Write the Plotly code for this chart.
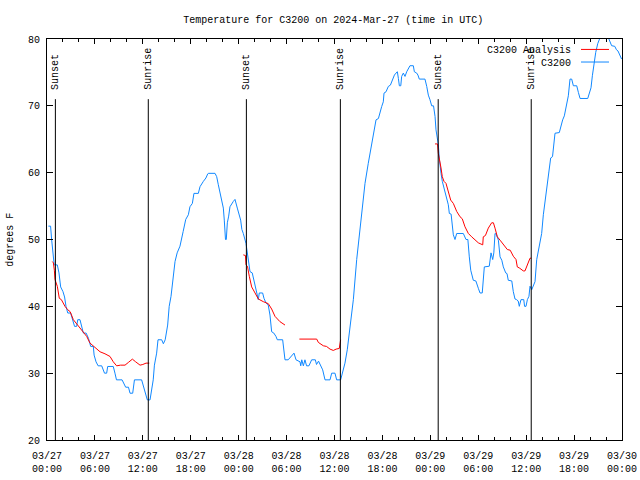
import pandas as pd
import plotly.graph_objects as go

BASE = pd.Timestamp("2024-03-27 00:00")

# Observed C3200 temperature: hours since 2024-03-27 00:00 UTC, degrees F
obs_hours = [0.17, 0.45, 0.58, 0.7, 0.79, 0.9, 1.29, 1.5, 1.65, 1.71, 2.0, 2.2, 2.38, 2.6, 2.96,
             3.3, 3.45, 3.71, 3.85, 4.13, 4.35, 4.55, 4.9, 5.2, 5.47, 5.8, 5.9, 6.14, 6.4, 6.85,
             7.2, 7.47, 7.6, 8.3, 8.51, 8.7, 9.4, 9.85, 10.2, 10.4, 10.73, 10.95, 11.85, 12.1,
             12.4, 12.56, 12.9, 13.05, 13.3, 13.45, 13.73, 13.9, 14.36, 14.57, 14.8, 15.11,
             15.3, 15.53, 15.8, 16.03, 16.3, 16.65, 17.05, 17.37, 17.7, 17.9, 18.2, 18.4, 18.95,
             19.16, 19.58, 19.9, 20.12, 20.2, 21.04, 21.25, 21.45, 21.66, 21.87, 22.08, 22.2,
             22.35, 22.45, 22.58, 22.75, 22.91, 23.33, 23.54, 23.83, 24.08, 24.25, 24.4, 24.58,
             24.92, 25.2, 25.42, 25.7, 25.92, 26.17, 26.46, 26.58, 27.0, 27.17, 27.42, 27.7,
             27.92, 28.13, 28.4, 28.67, 28.84, 29.51, 29.8, 30.2, 30.64, 30.93, 31.18, 31.68,
             31.77, 31.9, 32.1, 32.3, 32.5, 32.8, 33.14, 33.6, 33.75, 34.0, 34.52, 34.81, 35.44,
             35.65, 36.06, 36.27, 36.77, 37.02, 37.31, 37.6, 37.94, 38.36, 38.78, 39.11, 39.53,
             39.82, 40.23, 40.53, 40.78, 40.95, 41.07, 41.2, 41.5, 41.7, 41.91, 42.11, 42.2,
             42.45, 42.74, 43.0, 43.16, 43.29, 43.5, 43.7, 43.87, 44.0, 44.12, 44.3, 44.41,
             44.62, 44.83, 45.04, 45.25, 45.45, 45.87, 46.0, 46.29, 46.45, 46.62, 47.33, 47.55,
             47.75, 47.96, 48.17, 48.4, 48.59, 48.71, 48.88, 49.0, 49.13, 49.21, 49.34, 49.5,
             49.71, 49.96, 50.25, 50.38, 50.6, 50.88, 51.09, 51.3, 52.13, 52.47, 52.7, 52.88,
             53.06, 53.38, 53.7, 54.01, 54.22, 54.5, 54.63, 54.76, 55.38, 55.6, 55.81, 55.95,
             56.1, 56.25, 56.52, 56.73, 56.95, 57.14, 57.44, 57.6, 57.76, 58.2, 58.39, 58.6,
             58.8, 59.0, 59.14, 59.35, 59.7, 59.8, 59.98, 60.15, 60.35, 60.48, 60.7, 60.9,
             61.11, 61.32, 61.52, 61.73, 61.94, 62.15, 62.45, 62.65, 62.9, 63.07, 63.3, 63.52,
             63.61, 64.15, 64.32, 64.57, 64.78, 65.07, 65.28, 65.49, 65.7, 65.91, 66.33, 66.54,
             66.75, 67.71, 67.88, 68.12, 68.29, 68.5, 68.71, 68.96, 69.25, 70.29, 70.5, 70.7,
             71.1, 71.3, 71.5, 71.75, 71.95]
obs_temp = [52, 52, 50, 48.4, 46.7, 46.2, 46.2, 45, 43.5, 42.9, 42.2, 41.4, 40, 39, 39,
            37.7, 37, 37, 38, 38, 36.7, 36, 36, 35.2, 34, 34, 32.7, 31.7, 31.1, 31.1,
            30, 30, 31, 31, 30, 29, 29, 27.9, 27.9, 27, 27, 29, 29, 28,
            27, 26, 26, 27, 29, 31.2, 33, 35, 35, 34.4, 35, 37.2,
            40, 41.5, 44.2, 46.7, 48, 49, 51.2, 53, 53.7, 54.9, 55.4, 56.9, 56.9,
            57.9, 58.7, 59.2, 59.8, 59.9, 59.9, 59.4, 58.2, 56.9, 55.9, 54.7, 52.9,
            50, 50, 52.5, 53.5, 54.9, 55.7, 56, 54.7, 53.7, 52.9, 51.5, 50.9,
            49.4, 47, 45.2, 45, 43.7, 42.5, 41, 42, 42, 41.2, 40.5, 40.2,
            38.7, 36.2, 36, 35.5, 35, 35, 32, 32, 32.6, 33, 32, 31.7,
            31.1, 32, 31.1, 32, 31.1, 31.1, 32, 32, 31.3, 31.8, 30.5, 29, 29,
            30, 30, 29, 29, 30.2, 31.5, 33.5, 36.5, 41, 47, 50.4, 54.9,
            58.4, 61.4, 63.4, 64.9, 65.7, 66.4, 67.9, 68.1, 69.1, 69.9, 70.6, 71.9,
            72.1, 72.9, 73.1, 73.6, 74.1, 74.6, 74.9, 75.1, 74.1, 73, 73, 74.4,
            74.9, 74.4, 75.1, 75.7, 76, 76, 75.1, 74.9, 74.6, 74, 74, 72.9,
            71.6, 70.9, 70, 70, 68.4, 66.4, 64.9, 64.2, 62, 60.9, 59.9, 58.7,
            57.7, 56.4, 55.2, 53.9, 53.8, 50.7, 50, 50.9, 50.9, 50, 50, 47.4,
            45.4, 43.9, 43.8, 42.7, 42, 42, 43.9, 45.9, 46, 48, 47, 48,
            50.9, 50.8, 49.9, 47.4, 46.9, 45.9, 45, 44.9, 43.9, 43.8, 42.2, 41.1,
            41, 40.8, 40, 41, 41, 40, 40, 41, 41.5, 43, 42.5, 43.2,
            43.7, 47, 48.2, 49.2, 50.9, 53.7, 56.4, 58.9, 61.2, 62.2, 62.4, 65.4,
            65.9, 66, 66.9, 67.9, 68.5, 70, 71.5, 74, 74, 73, 73, 72,
            71.1, 71.1, 71.7, 72.7, 74.5, 76.5, 78, 79.3, 80.2, 80.2, 79.5, 79,
            78.9, 78.4, 78.2, 77.5, 77]

# Analysis series (None = gap between analysis runs)
ana_hours = [0.67, 0.8, 0.92, 1.0, 1.29, 1.54, 1.8, 2.25, 2.59, 2.9, 3.3, 3.71, 4.13, 4.55,
             4.97, 5.38, 5.8, 6.22, 6.64, 7.26, 7.89, 8.3, 8.72, 9.2, 9.77, 10.18, 10.69,
             11.1, 11.65, 12.0, 12.4, 12.81, 18.0,
             24.58, 24.85, 24.92, 25.1, 25.33, 25.63, 26.05, 26.46, 27.09, 27.71, 28.13,
             28.55, 29.18, 29.8, 30.5,
             31.6, 33.77, 33.98, 34.6, 35.0, 35.44, 35.85, 36.2, 36.6, 36.77, 42.0,
             48.59, 48.9, 49.0, 49.21, 49.34, 49.5, 49.71, 49.96, 50.25, 50.55, 50.88, 51.3,
             51.72, 52.0, 52.34, 52.76, 53.18, 53.59, 54.01, 54.56, 54.63, 54.9, 55.26,
             55.68, 55.9, 56.1, 56.39, 56.73, 57.0, 57.35, 57.64, 58.0, 58.39, 58.73, 58.89,
             59.2, 59.64, 59.85, 60.07, 60.28, 60.48, 60.63]
ana_temp = [46.7, 46.5, 45.4, 44, 43, 41.2, 41, 40, 39.5, 39.2, 38, 37.4, 36.7, 36,
            35.5, 34.5, 34.1, 33.7, 33.2, 32.9, 32.5, 31.7, 31.1, 31.2, 31.2, 31.6, 32.1,
            31.7, 31.2, 31.3, 31.5, 31.5, None,
            47.7, 47.6, 46.2, 46, 44.5, 42.9, 42, 41.1, 40.7, 40.4, 39.6,
            38.5, 37.7, 37.2, None,
            35.1, 35.1, 34.6, 34.1, 34, 33.6, 33.4, 33.6, 33.7, 35, None,
            64.3, 64.3, 62.9, 61.8, 60.7, 59.4, 58.7, 58.4, 57.2, 55.9, 55.4, 54.2,
            53.4, 53.1, 51.9, 50.9, 50.4, 49.9, 49.5, 49.2, 50.4, 50.6, 51.7,
            52.5, 52.5, 51.7, 50.4, 49.9, 49.5, 48.9, 48.5, 48.4, 47.5, 47, 45.9,
            45.7, 45.3, 45.3, 45.9, 46.7, 47.2, 47.2]

sun_labels = ["Sunset", "Sunrise", "Sunset", "Sunrise", "Sunset", "Sunrise"]
sun_times = ["2024-03-27 01:03", "2024-03-27 12:41", "2024-03-28 00:58",
             "2024-03-28 12:44", "2024-03-29 00:59", "2024-03-29 12:38"]

x_ticks_start = "2024-03-27 00:00"
x_ticks_end = "2024-03-30 00:00"
y_ticks = [20, 30, 40, 50, 60, 70, 80]

FONT = "Liberation Mono, DejaVu Sans Mono, monospace"
BLUE = "rgb(16,136,255)"
RED = "rgb(255,0,0)"

obs_x = BASE + pd.to_timedelta(obs_hours, unit="h")
ana_x = BASE + pd.to_timedelta(ana_hours, unit="h")

fig = go.Figure()
fig.add_trace(go.Scatter(x=obs_x, y=obs_temp, mode="lines", name="C3200",
                         line=dict(color=BLUE, width=1), showlegend=False))
fig.add_trace(go.Scatter(x=ana_x, y=ana_temp, mode="lines", name="C3200 Analysis",
                         line=dict(color=RED, width=1), connectgaps=False, showlegend=False))

# Sunrise / sunset markers
for lab, t in zip(sun_labels, sun_times):
    fig.add_shape(type="line", xref="x", yref="y", x0=t, x1=t, y0=20, y1=71,
                  line=dict(color="black", width=1))
    fig.add_annotation(x=t, xref="x", y=0.869, yref="paper", text=lab, textangle=-90,
                       showarrow=False, xanchor="center", yanchor="bottom",
                       font=dict(family=FONT, size=10, color="black"))

# Legend (gnuplot style: text right-aligned, sample on the right)
for name, col, yt, yl in [("C3200 Analysis", RED, 0.971, 0.974), ("C3200", BLUE, 0.940, 0.9426)]:
    fig.add_annotation(x=0.9153, y=yt, xref="paper", yref="paper", text=name, showarrow=False,
                       xanchor="right", yanchor="middle",
                       font=dict(family=FONT, size=10, color="black"))
    fig.add_shape(type="line", xref="paper", yref="paper", x0=0.9287, x1=0.9774, y0=yl, y1=yl,
                  line=dict(color=col, width=1))

# Y axis title
fig.add_annotation(x=-0.064, y=0.5, xref="paper", yref="paper", text="degrees F",
                   textangle=-90, showarrow=False, xanchor="center", yanchor="middle",
                   font=dict(family=FONT, size=10, color="black"))

fig.update_layout(
    width=640, height=480,
    margin=dict(l=47, r=18, t=39, b=40, pad=0, autoexpand=False),
    paper_bgcolor="white", plot_bgcolor="white",
    font=dict(family=FONT, size=10, color="black"),
    title=dict(text="Temperature for C3200 on 2024-Mar-27 (time in UTC)",
               x=0.5207, xref="container", xanchor="center",
               y=1 - 19 / 480, yref="container", yanchor="middle",
               font=dict(family=FONT, size=10, color="black"), automargin=False),
    showlegend=False,
)
fig.update_xaxes(
    type="date", range=[x_ticks_start, x_ticks_end], automargin=False,
    tick0=x_ticks_start, dtick=6 * 3600 * 1000, tickformat="%m/%d<br>%H:%M",
    ticks="inside", ticklen=5, tickcolor="black", tickwidth=1, ticklabelstandoff=6,
    minor=dict(dtick=2 * 3600 * 1000, ticks="inside", ticklen=3, tickcolor="black", showgrid=False),
    showline=True, linecolor="black", linewidth=1, mirror="allticks",
    showgrid=False, zeroline=False,
    tickfont=dict(family=FONT, size=10, color="black"),
)
fig.update_yaxes(
    range=[20, 80], tickvals=y_ticks, automargin=False,
    ticks="inside", ticklen=6, tickcolor="black", tickwidth=1, ticklabelstandoff=4,
    showline=True, linecolor="black", linewidth=1, mirror="allticks",
    showgrid=False, zeroline=False,
    tickfont=dict(family=FONT, size=10, color="black"),
)

fig.write_html(
    "out.html",
    config={"displayModeBar": False, "staticPlot": True},
    post_script=("document.documentElement.style.margin='0';"
                 "document.documentElement.style.overflow='hidden';"
                 "document.body.style.margin='0';document.body.style.padding='0';"
                 "document.body.style.overflow='hidden';"),
)
